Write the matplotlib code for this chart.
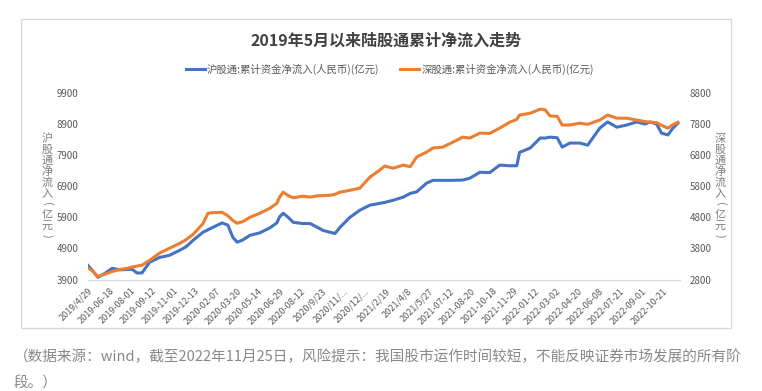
import numpy as np
import matplotlib.pyplot as plt
from matplotlib.patches import Rectangle

plt.rcParams['font.family'] = ['Noto Sans CJK SC', 'DejaVu Sans']

# trading-day index (one tick label every 30 days) and values
day_idx = [0, 6, 14, 24, 34, 45, 55, 62, 69, 76, 87, 101, 115, 130, 138, 148,
           162, 169, 176, 189, 197, 204, 210, 218, 228, 242, 256, 266, 270, 275,
           282, 289, 303, 313, 323, 331, 341, 348, 355, 369, 383, 397, 411, 418,
           430, 444, 454, 463, 477, 486, 500, 514, 528, 538, 552, 566, 580, 594,
           604, 608, 623, 637, 644, 651, 661, 668, 679, 693, 704, 711, 721, 732,
           745, 759, 773, 785, 792, 801, 808, 817, 824, 831]

sh_flow = [4350, 4200, 3970, 4100, 4260, 4210, 4220, 4230, 4110, 4110, 4460, 4610,
           4680, 4850, 4950, 5160, 5420, 5500, 5580, 5720, 5650, 5260, 5100, 5170,
           5320, 5400, 5560, 5720, 5920, 6030, 5900, 5740, 5700, 5700, 5580, 5480,
           5420, 5380, 5580, 5900, 6130, 6290, 6350, 6380, 6450, 6550, 6670, 6720,
           7000, 7090, 7090, 7090, 7100, 7160, 7350, 7340, 7580, 7560, 7560, 7990,
           8130, 8450, 8450, 8480, 8460, 8160, 8290, 8290, 8220, 8450, 8770, 8970,
           8800, 8870, 8970, 8900, 8970, 8900, 8610, 8550, 8770, 8930]

sz_flow = [3170, 3080, 2900, 2970, 3060, 3120, 3160, 3200, 3230, 3260, 3420, 3650,
           3810, 3970, 4080, 4250, 4600, 4930, 4950, 4960, 4850, 4700, 4610, 4660,
           4800, 4930, 5090, 5250, 5450, 5610, 5500, 5430, 5480, 5450, 5490, 5500,
           5510, 5540, 5610, 5670, 5740, 6090, 6320, 6450, 6380, 6480, 6430, 6740,
           6900, 7030, 7060, 7220, 7380, 7350, 7510, 7500, 7670, 7860, 7950, 8090,
           8150, 8280, 8260, 8060, 8050, 7770, 7770, 7830, 7790, 7850, 7930, 8090,
           7990, 7990, 7930, 7880, 7860, 7850, 7760, 7670, 7780, 7860]

tick_labels = ['2019/4/29', '2019-06-18', '2019-08-01', '2019-09-12', '2019-11-01',
               '2019-12-13', '2020-02-07', '2020-03-20', '2020-05-14', '2020-06-29',
               '2020-08-12', '2020/9/23', '2020/11/...', '2020/12/...', '2021/2/19',
               '2021/4/8', '2021/5/27', '2021-07-12', '2021-08-20', '2021-10-18',
               '2021-11-29', '2022-01-12', '2022-03-02', '2022-04-20', '2022-06-08',
               '2022-07-21', '2022-09-01', '2022-10-21']
tick_pos = [i * 30 for i in range(len(tick_labels))]

gray = '#595959'

fig = plt.figure(figsize=(7.62, 3.91), dpi=100)
# chart frame
fig.patches.append(Rectangle((21 / 762, 1 - 328 / 391), 710 / 762, 309 / 391,
                             transform=fig.transFigure, fill=False,
                             edgecolor='#d9d9d9', linewidth=1))

ax = fig.add_axes([88 / 762, 1 - 279.5 / 391, 592 / 762, 186.5 / 391])
ax2 = ax.twinx()

l1, = ax.plot(day_idx, sh_flow, color='#4472C4', lw=2.2)
l2, = ax2.plot(day_idx, sz_flow, color='#ED7D31', lw=2.2)

ax.set_xlim(0, 834)
ax.set_ylim(3900, 9900)
ax2.set_ylim(2800, 8800)
ax.set_yticks(range(3900, 9901, 1000))
ax2.set_yticks(range(2800, 8801, 1000))
ax.set_xticks(tick_pos)
ax.set_xticklabels(tick_labels, rotation=45, ha='right', rotation_mode='anchor')

for a in (ax, ax2):
    for s in a.spines.values():
        s.set_visible(False)
    a.patch.set_visible(False)
ax.spines['bottom'].set_visible(True)
ax.spines['bottom'].set_color('#d9d9d9')
ax.tick_params(axis='x', length=0, pad=5, labelsize=6.5, labelcolor=gray)
ax.tick_params(axis='y', length=0, pad=7, labelsize=7, labelcolor=gray)
ax2.tick_params(axis='y', length=0, pad=7, labelsize=7, labelcolor=gray)

# upright stacked axis titles, one character per line, brackets turned sideways
ylab_l = '沪股通净流入(亿元)'
ylab_r = '深股通净流入(亿元)'
for xpix, label in ((47, ylab_l), (720, ylab_r)):
    for i, ch in enumerate(label):
        ypix = 139 + i * 10.8
        rot = -90 if ch in '()' else 0
        fig.text(xpix / 762, 1 - ypix / 391, ch, ha='center', va='center',
                 fontsize=8, color='#7f7f7f', rotation=rot)

fig.text(386 / 762, 1 - 41 / 391, '2019年5月以来陆股通累计净流入走势', ha='center',
         va='center', fontsize=11.5, fontweight='bold', color='#404040')

fig.legend([l1, l2], ['沪股通:累计资金净流入(人民币)(亿元)', '深股通:累计资金净流入(人民币)(亿元)'],
           loc='center', bbox_to_anchor=(390 / 762, 1 - 69 / 391), ncol=2,
           frameon=False, fontsize=7.5, labelcolor=gray, handlelength=1.8,
           handletextpad=0.2, columnspacing=2.0)

fig.text(14 / 762, 1 - 357 / 391,
         '（数据来源：wind，截至2022年11月25日，风险提示：我国股市运作时间较短，不能反映证券市场发展的所有阶',
         ha='left', va='center', fontsize=10.5, color='#888888')
fig.text(14 / 762, 1 - 384 / 391, '段。）', ha='left', va='center',
         fontsize=10.5, color='#888888')

fig.savefig('out.png', dpi=100)
